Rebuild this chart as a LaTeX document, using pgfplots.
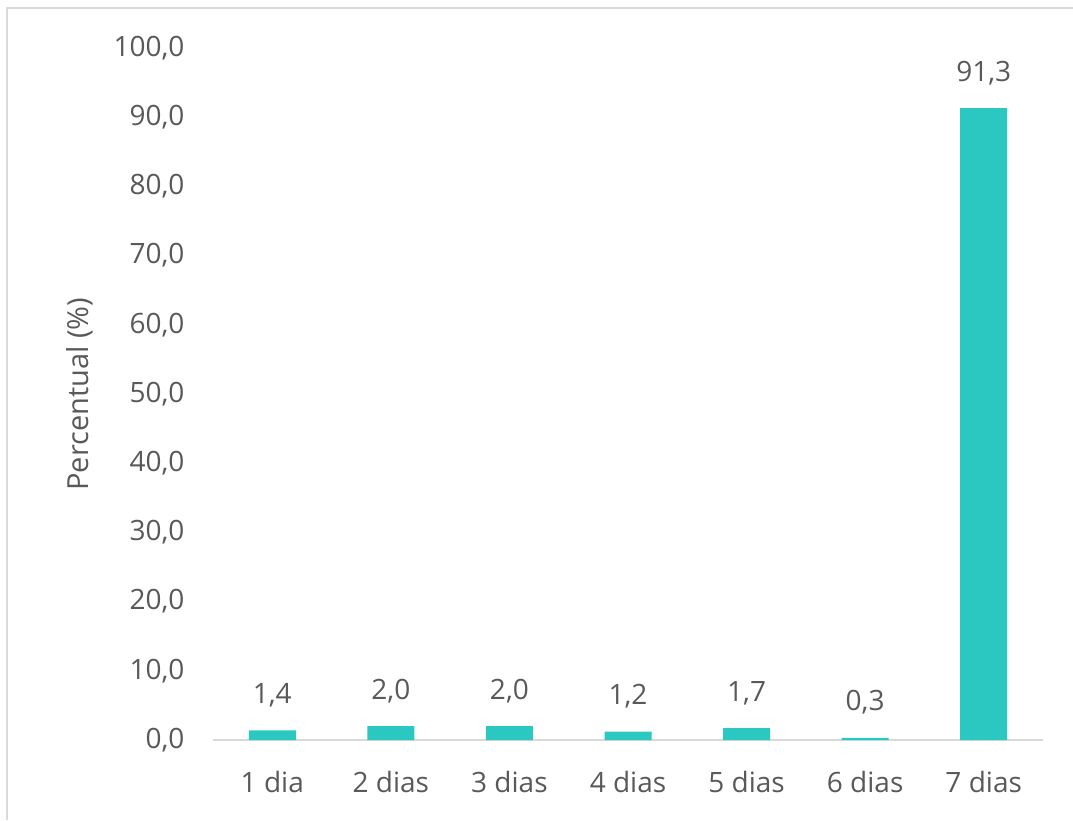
\documentclass[border=0pt]{standalone}
\usepackage{fontspec}
\setmainfont{Open Sans}
\usepackage{pgfplots}
\pgfplotsset{compat=1.18}
\definecolor{barteal}{HTML}{2BC8C2}
\definecolor{txtgray}{HTML}{595959}
\definecolor{axgray}{HTML}{D9D9D9}
\newcommand{\lblfont}{\fontsize{28}{33}\selectfont}

\begin{document}
\begin{tikzpicture}[x=1pt,y=1pt]
\useasboundingbox (0,0) rectangle (1073,820);
% outer chart frame
\draw[axgray, line width=2pt] (7,0) -- (7,812) -- (1073,812);
\begin{axis}[
  at={(213pt,80pt)}, anchor=south west,
  scale only axis, width=830pt, height=692pt,
  ybar, bar width=47pt,
  xmin=-0.5, xmax=6.5, ymin=0, ymax=100,
  ytick={0,10,...,100},
  xtick=data,
  xticklabels={1 dia,2 dias,3 dias,4 dias,5 dias,6 dias,7 dias},
  axis x line*=bottom, axis y line*=left,
  x axis line style={draw=axgray, line width=2pt, -},
  y axis line style={draw=none},
  major tick length=0pt,
  /pgf/number format/fixed,
  /pgf/number format/fixed zerofill,
  /pgf/number format/precision=1,
  /pgf/number format/use comma,
  /pgf/number format/assume math mode=true,
  ticklabel style={font=\lblfont, text=txtgray},
  yticklabel style={xshift=-25pt},
  xticklabel style={yshift=-28pt},
  nodes near coords,
  nodes near coords style={font=\lblfont, text=txtgray, yshift=20pt},
  ylabel={Percentual (\%)},
  ylabel style={font=\fontsize{29}{34}\selectfont, text=txtgray, at={(axis description cs:-0.1602,0.5)}, anchor=center},
]
\addplot[fill=barteal, draw=none] coordinates {
  (0,1.4) (1,2.0) (2,2.0) (3,1.2) (4,1.7) (5,0.3) (6,91.3)
};
\end{axis}
\end{tikzpicture}
\end{document}
